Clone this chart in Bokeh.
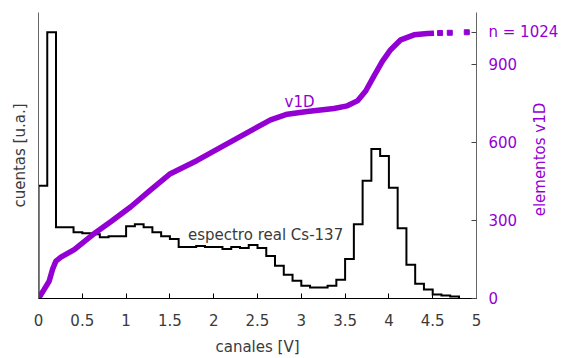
import numpy as np
from math import pi
from bokeh.plotting import figure
from bokeh.models import Range1d, LinearAxis, FixedTicker, Label
from bokeh.embed import file_html
from bokeh.resources import INLINE

# ---------------- data ----------------
bin_left = [0.0, 0.1, 0.2, 0.3, 0.4, 0.5, 0.6, 0.7, 0.8, 0.9,
            1.0, 1.1, 1.2, 1.3, 1.4, 1.5, 1.6, 1.7, 1.8, 1.9,
            2.0, 2.1, 2.2, 2.3, 2.4, 2.5, 2.6, 2.7, 2.8, 2.9,
            3.0, 3.1, 3.2, 3.3, 3.4, 3.5, 3.6, 3.7, 3.8, 3.9,
            4.0, 4.1, 4.2, 4.3, 4.4, 4.5, 4.6, 4.7]
bin_width = 0.1
counts = [114, 269, 72, 72, 67, 66, 65, 62, 63, 63,
          73, 75, 72, 67, 63, 60, 52, 52, 53, 52,
          52, 50, 52, 51, 54, 51, 43, 33, 24, 18,
          13, 11, 11, 13, 19, 40, 75, 119, 151, 144,
          112, 71, 34, 15, 9, 4, 3, 2]

v1d_volts = [0.0, 0.065, 0.122, 0.16, 0.199, 0.256, 0.408, 0.617, 0.828, 1.054,
             1.277, 1.505, 1.811, 2.115, 2.42, 2.649, 2.84, 3.068, 3.372, 3.525,
             3.64, 3.735, 3.829, 3.925, 4.02, 4.135, 4.287, 4.44, 4.515]
v1d_index = [0, 35, 67, 112, 144, 159, 188, 245, 296, 353,
             417, 480, 531, 588, 645, 687, 709, 719, 731, 741,
             760, 798, 855, 912, 957, 995, 1014, 1019, 1020]
tail_volts = [4.584, 4.695, 4.889]
tail_index = [1021, 1022, 1024]

x_ticks = [0, 0.5, 1, 1.5, 2, 2.5, 3, 3.5, 4, 4.5, 5]
x_tick_labels = ["0", "0.5", "1", "1.5", "2", "2.5", "3", "3.5", "4", "4.5", "5"]
r_ticks = [0, 300, 600, 900, 1024]
r_tick_labels = ["0", "300", "600", "900", "n = 1024"]
r_axis_label = "elementos v1D"

# where the (upward-reading) right-hand title starts, on the right scale
R_LABEL_AT = 316

PURPLE = "#9400D3"
TXT = "#3a3a3a"
FONT = "DejaVu Sans"
FS = "15px"

p = figure(width=561, height=358, output_backend="svg", toolbar_location=None,
           x_range=Range1d(0, 5), y_range=Range1d(0, 289),
           min_border_left=38, min_border_right=85, min_border_top=12,
           min_border_bottom=57)
p.extra_y_ranges = {"right": Range1d(0, 1100)}
p.outline_line_color = None
p.xgrid.visible = False
p.ygrid.visible = False
p.background_fill_color = "white"
p.border_fill_color = "white"

# histogram as step outline
xs = [bin_left[0]] + bin_left + [bin_left[-1] + bin_width]
ys = [0] + counts + [0]
p.step(xs, ys, mode="after", line_color="black", line_width=2, line_join="miter")

# v1D cumulative curve
p.line(v1d_volts, v1d_index, y_range_name="right", line_color=PURPLE, line_width=5.5)
p.scatter(tail_volts, tail_index, y_range_name="right", marker="square", size=5,
          fill_color=PURPLE, line_color=PURPLE)

# x axis
xa = p.xaxis[0]
xa.ticker = FixedTicker(ticks=x_ticks)
xa.major_label_overrides = {t: l for t, l in zip(x_ticks, x_tick_labels)}
xa.minor_tick_line_color = None
xa.major_tick_in = 5
xa.major_tick_out = 0
xa.major_label_standoff = 15
xa.axis_label = "canales [V]"
xa.axis_label_standoff = 9
xa.axis_label_text_font = FONT
xa.axis_label_text_font_style = "normal"
xa.axis_label_text_font_size = FS
xa.axis_label_text_color = TXT
xa.major_label_text_font = FONT
xa.major_label_text_font_size = FS
xa.major_label_text_color = TXT
xa.axis_line_color = "black"
xa.major_tick_line_color = "black"

# left axis
ya = p.yaxis[0]
ya.ticker = FixedTicker(ticks=[])
ya.minor_tick_line_color = None
ya.major_tick_in = 0
ya.major_tick_out = 0
ya.major_label_standoff = 0
ya.axis_label = "cuentas [u.a.]"
ya.axis_label_standoff = 10
ya.axis_label_text_font = FONT
ya.axis_label_text_font_style = "normal"
ya.axis_label_text_font_size = FS
ya.axis_label_text_color = TXT
ya.axis_line_color = "#666666"

# right axis
ra = LinearAxis(y_range_name="right", ticker=FixedTicker(ticks=r_ticks))
ra.major_label_overrides = {t: l for t, l in zip(r_ticks, r_tick_labels)}
ra.minor_tick_line_color = None
ra.major_tick_in = 5
ra.major_tick_out = 0
ra.major_label_standoff = 12
ra.major_label_text_font = FONT
ra.major_label_text_font_size = FS
ra.major_label_text_color = PURPLE
ra.axis_line_color = "#666666"
ra.major_tick_line_color = "#444444"
p.add_layout(ra, "right")

# right-hand title, drawn as the single label of a bare second axis
ta = LinearAxis(y_range_name="right", ticker=FixedTicker(ticks=[R_LABEL_AT]))
ta.major_label_overrides = {R_LABEL_AT: r_axis_label}
ta.axis_line_color = None
ta.major_tick_line_color = None
ta.minor_tick_line_color = None
ta.major_tick_in = 0
ta.major_tick_out = 0
ta.major_label_standoff = -21
ta.major_label_orientation = pi / 2
ta.major_label_text_font = FONT
ta.major_label_text_font_size = FS
ta.major_label_text_color = PURPLE
p.add_layout(ta, "right")

p.add_layout(Label(x=1.706, y=64, text="espectro real Cs-137",
                   text_align="left", text_baseline="middle",
                   text_font=FONT, text_font_size=FS, text_color=TXT))
p.add_layout(Label(x=2.809, y=756, y_range_name="right", text="v1D",
                   text_align="left", text_baseline="middle",
                   text_font=FONT, text_font_size=FS, text_color=PURPLE))

open("out.html", "w").write(file_html(p, INLINE))
